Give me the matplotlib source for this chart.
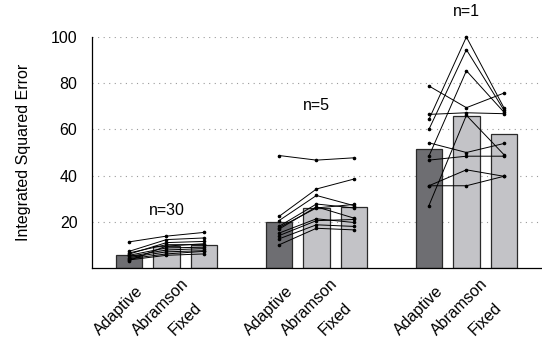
import numpy as np
import matplotlib
matplotlib.use("Agg")
import matplotlib.pyplot as plt
import matplotlib.transforms as mtransforms

plt.rcParams['font.family'] = ['Liberation Sans', 'DejaVu Sans']
plt.rcParams['font.size'] = 11.5

# data
methods = ['Adaptive', 'Abramson', 'Fixed']
group_labels = ['n=30', 'n=5', 'n=1']

bars_n30 = [5.5, 9.5, 10.0]
bars_n5 = [20.0, 26.0, 26.5]
bars_n1 = [51.7, 66.0, 57.8]

lines_n30 = [
    [11.3, 13.8, 15.4],
    [7.2, 12.3, 13.0],
    [6.5, 10.1, 10.1],
    [5.5, 8.7, 9.0],
    [5.0, 7.8, 8.4],
    [4.5, 7.0, 7.5],
    [4.0, 6.1, 7.2],
    [3.5, 5.5, 6.1],
    [3.2, 9.5, 10.5],
    [6.0, 11.0, 11.5],
]
lines_n5 = [
    [48.7, 46.7, 47.7],
    [22.3, 34.2, 38.5],
    [20.5, 31.4, 27.0],
    [18.0, 27.7, 26.0],
    [16.8, 26.5, 21.6],
    [15.1, 21.3, 19.7],
    [12.6, 18.7, 18.0],
    [10.0, 17.2, 16.5],
    [17.5, 26.0, 27.5],
    [14.0, 20.5, 21.0],
]
lines_n1 = [
    [78.8, 69.4, 75.7],
    [66.5, 67.2, 66.8],
    [64.3, 100.0, 69.4],
    [60.0, 94.5, 68.4],
    [48.4, 85.4, 67.5],
    [54.2, 50.0, 53.9],
    [46.7, 48.4, 48.4],
    [35.6, 42.5, 39.7],
    [35.6, 35.6, 39.7],
    [27.0, 66.1, 49.1],
]
label_y = [24.8, 70.4, 111.0]

bar_groups = [bars_n30, bars_n5, bars_n1]
line_groups = [lines_n30, lines_n5, lines_n1]

fig = plt.figure(figsize=(5.42, 3.41), dpi=100)
ax = fig.add_axes([92 / 542, 73 / 341, 449 / 542, 231 / 341])

dark = '#6e6e72'
light = '#c3c3c7'
colors = [dark, light, light]

for gy in [20, 40, 60, 80, 100]:
    ax.axhline(gy, color='#9a9a9a', lw=0.8, ls=(0, (1, 4)), zorder=0)

for g in range(3):
    xs = np.arange(3) + 4 * g
    ax.bar(xs, bar_groups[g], width=0.71, color=colors,
           edgecolor='#2a2a2a', linewidth=0.9, zorder=2)
    for ln in line_groups[g]:
        ax.plot(xs, ln, color='black', lw=0.7, marker='o', ms=1.6,
                zorder=3, clip_on=False)
    ax.text(xs[1], label_y[g], group_labels[g], ha='center', va='center',
            clip_on=False)

ax.set_xlim(-0.987, 10.99)
ax.set_ylim(0, 100)
ax.set_yticks([20, 40, 60, 80, 100])
ax.tick_params(axis='y', length=0, pad=10.5)
ax.set_xticks([])
ax.spines['top'].set_visible(False)
ax.spines['right'].set_visible(False)
ax.spines['left'].set_linewidth(0.9)
ax.spines['bottom'].set_linewidth(0.9)
ax.set_ylabel('Integrated Squared Error', labelpad=14)

# rotated category labels below the axis
for g in range(3):
    for i, m in enumerate(methods):
        x = i + 4 * g
        trans = mtransforms.offset_copy(ax.get_xaxis_transform(), fig=fig,
                                        x=-29, y=-68, units='dots')
        ax.text(x, 0, m, transform=trans, rotation=45, ha='left',
                va='baseline', rotation_mode='anchor')

fig.savefig('out.png', dpi=100)
